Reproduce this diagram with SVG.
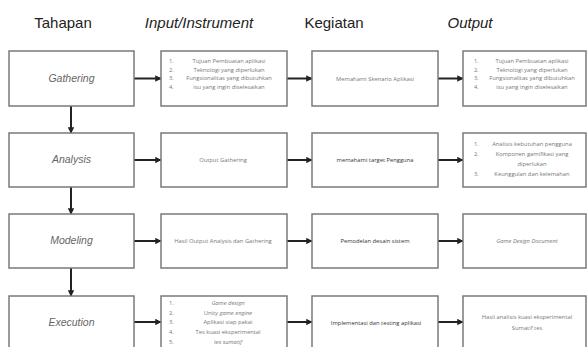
<svg xmlns="http://www.w3.org/2000/svg" width="587" height="347" viewBox="0 0 587 347">
<style>
.hd{font-family:"Liberation Sans",Arial,sans-serif;font-size:15px;fill:#222;text-anchor:middle}
.it{font-style:italic}
.box{fill:#fff;stroke:#7a7a7a;stroke-width:1.5}
.lb{font-family:"Liberation Sans",Arial,sans-serif;font-size:10.5px;fill:#666;font-style:italic;text-anchor:middle}
.sm{font-family:"Open Sans","Liberation Sans",sans-serif;font-size:5.8px;fill:#777;text-anchor:middle}
.num{font-family:"Open Sans","Liberation Sans",sans-serif;font-size:5.8px;fill:#777}
.dk{fill:#333}
.con{stroke:#222;stroke-width:2;fill:none;marker-end:url(#ah)}
</style>
<defs>
<marker id="ah" viewBox="0 0 10 10" refX="9" refY="5" markerWidth="3.2" markerHeight="3.2" orient="auto" markerUnits="strokeWidth">
<path d="M0,0 L10,5 L0,10 z" fill="#222"/>
</marker>
</defs>
<rect width="587" height="347" fill="#fff"/>
<g id="headers">
<text class="hd" x="63" y="28">Tahapan</text>
<text class="hd it" x="199" y="28">Input/Instrument</text>
<text class="hd" x="334" y="28">Kegiatan</text>
<text class="hd it" x="470" y="28">Output</text>
</g>
<g id="connectors">
<line class="con" x1="134" y1="78.5" x2="161" y2="78.5"/>
<line class="con" x1="287" y1="78.5" x2="312" y2="78.5"/>
<line class="con" x1="438" y1="78.5" x2="463" y2="78.5"/>
<line class="con" x1="134" y1="160" x2="161" y2="160"/>
<line class="con" x1="287" y1="160" x2="312" y2="160"/>
<line class="con" x1="438" y1="160" x2="463" y2="160"/>
<line class="con" x1="134" y1="241" x2="161" y2="241"/>
<line class="con" x1="287" y1="241" x2="312" y2="241"/>
<line class="con" x1="438" y1="241" x2="463" y2="241"/>
<line class="con" x1="134" y1="322" x2="161" y2="322"/>
<line class="con" x1="287" y1="322" x2="312" y2="322"/>
<line class="con" x1="438" y1="322" x2="463" y2="322"/>
<line class="con" x1="71" y1="106" x2="71" y2="133"/>
<line class="con" x1="71" y1="187" x2="71" y2="214"/>
<line class="con" x1="71" y1="268" x2="71" y2="296"/>
</g>
<g id="gathering">
<rect class="box" x="9" y="51" width="125" height="55"/>
<text class="lb" x="71.5" y="82">Gathering</text>
</g>
<g id="input1">
<rect class="box" x="161" y="51" width="126" height="55"/>
<text class="num" x="169" y="63">1.</text>
<text class="num" x="169" y="71.5">2.</text>
<text class="num" x="169" y="80">3.</text>
<text class="num" x="169" y="88.5">4.</text>
<text class="sm" x="229" y="63">Tujuan Pembuatan aplikasi</text>
<text class="sm" x="229" y="71.5">Teknologi yang diperlukan</text>
<text class="sm" x="229" y="80">Fungsionalitas yang dibutuhkan</text>
<text class="sm" x="229" y="88.5">isu yang ingin diselesaikan</text>
</g>
<g id="kegiatan1">
<rect class="box" x="312" y="51" width="126" height="55"/>
<text class="sm" x="375" y="81">Memahami Skenario Aplikasi</text>
</g>
<g id="output1">
<rect class="box" x="463" y="51" width="123" height="55"/>
<text class="num" x="474" y="63">1.</text>
<text class="num" x="474" y="71.5">2.</text>
<text class="num" x="474" y="80">3.</text>
<text class="num" x="474" y="88.5">4.</text>
<text class="sm" x="532" y="63">Tujuan Pembuatan aplikasi</text>
<text class="sm" x="532" y="71.5">Teknologi yang diperlukan</text>
<text class="sm" x="532" y="80">Fungsionalitas yang dibutuhkan</text>
<text class="sm" x="532" y="88.5">isu yang ingin diselesaikan</text>
</g>
<g id="analysis">
<rect class="box" x="9" y="133" width="125" height="54"/>
<text class="lb" x="71.5" y="163">Analysis</text>
</g>
<g id="input2">
<rect class="box" x="161" y="133" width="126" height="54"/>
<text class="sm" x="223" y="162">Output Gathering</text>
</g>
<g id="kegiatan2">
<rect class="box" x="312" y="133" width="126" height="54"/>
<text class="sm dk" x="375" y="162">memahami  target Pengguna</text>
</g>
<g id="output2">
<rect class="box" x="463" y="133" width="123" height="54"/>
<text class="num" x="474" y="145.5">1.</text>
<text class="num" x="474" y="155.5">2.</text>
<text class="num" x="474" y="175.5">3.</text>
<text class="sm" x="532" y="145.5">Analisis kebutuhan pengguna</text>
<text class="sm" x="532" y="155.5">Komponen gamifikasi yang</text>
<text class="sm" x="532" y="165.5">diperlukan</text>
<text class="sm" x="532" y="175.5">Keunggulan dan kelemahan</text>
</g>
<g id="modeling">
<rect class="box" x="9" y="214" width="125" height="54"/>
<text class="lb" x="71.5" y="244">Modeling</text>
</g>
<g id="input3">
<rect class="box" x="161" y="214" width="126" height="54"/>
<text class="sm" x="223" y="243">Hasil Output Analysis dan Gathering</text>
</g>
<g id="kegiatan3">
<rect class="box" x="312" y="214" width="126" height="54"/>
<text class="sm dk" x="375" y="243">Pemodelan desain sistem</text>
</g>
<g id="output3">
<rect class="box" x="463" y="214" width="123" height="54"/>
<text class="sm it" x="527" y="243">Game Design Document</text>
</g>
<g id="execution">
<rect class="box" x="9" y="296" width="125" height="60"/>
<text class="lb" x="71.5" y="326">Execution</text>
</g>
<g id="input4">
<rect class="box" x="161" y="296" width="126" height="60"/>
<text class="num" x="169" y="304.5">1.</text>
<text class="num" x="169" y="314.5">2.</text>
<text class="num" x="169" y="324">3.</text>
<text class="num" x="169" y="334">4.</text>
<text class="num" x="169" y="343.5">5.</text>
<text class="sm it" x="228" y="304.5">Game design</text>
<text class="sm" x="228" y="314.5">Unity <tspan font-style="italic">game engine</tspan></text>
<text class="sm" x="228" y="324">Aplikasi siap pakai</text>
<text class="sm" x="228" y="334">Tes kuasi eksperimental</text>
<text class="sm it" x="228" y="343.5">tes sumatif</text>
</g>
<g id="kegiatan4">
<rect class="box" x="312" y="296" width="126" height="60"/>
<text class="sm dk" x="376" y="325">Implementasi dan testing aplikasi</text>
</g>
<g id="output4">
<rect class="box" x="463" y="296" width="123" height="60"/>
<text class="sm" x="527" y="319">Hasil analisis kuasi eksperimental</text>
<text class="sm" x="527" y="329.5">Sumatif tes</text>
</g>
</svg>
